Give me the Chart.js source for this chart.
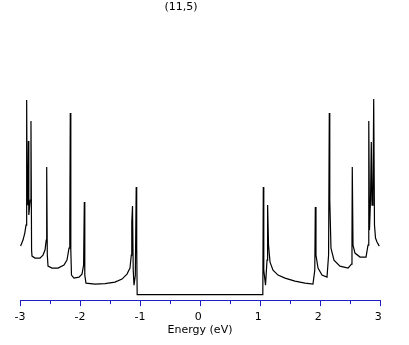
<!DOCTYPE html>
<html>
<head>
<meta charset="utf-8">
<script src="https://cdn.jsdelivr.net/npm/chart.js@4/dist/chart.umd.min.js"></script>
<style>
  html, body { margin: 0; padding: 0; background: #fff; }
  #wrap { width: 409px; height: 345px; }
</style>
</head>
<body>
<div id="wrap"><canvas id="dosChart" width="409" height="345"></canvas></div>
<script>
const chartTitle = "(11,5)";
const axisLabel = "Energy (eV)";
const tickValues = [-3, -2, -1, 0, 1, 2, 3];

// density of states (arbitrary units)
const energy = [
  -2.99, -2.95, -2.92, -2.90, -2.889, -2.88, -2.867, -2.86, -2.853, -2.83,
  -2.817, -2.807, -2.80, -2.75, -2.667, -2.617, -2.583, -2.563, -2.555, -2.545,
  -2.533, -2.467, -2.367, -2.267, -2.217, -2.183, -2.17, -2.162, -2.153, -2.142,
  -2.10, -2.017, -1.967, -1.94, -1.928, -1.92, -1.90, -1.75, -1.583, -1.417,
  -1.30, -1.217, -1.167, -1.145, -1.137, -1.125, -1.113, -1.10, -1.078, -1.063,
  -1.055, -1.047, 0, 1.047,
  1.055, 1.063, 1.092, 1.117, 1.127, 1.142, 1.167, 1.217, 1.30, 1.417,
  1.583, 1.75, 1.883, 1.913, 1.922, 1.933, 1.967, 2.033, 2.117, 2.143,
  2.155, 2.163, 2.183, 2.233, 2.333, 2.467, 2.525, 2.533, 2.538, 2.55,
  2.583, 2.667, 2.767, 2.80, 2.813, 2.825, 2.842, 2.855, 2.867, 2.883,
  2.895, 2.908, 2.925, 2.95, 2.988
];
const dos = [
  4.85, 5.45, 6.15, 6.95, 19.45, 9.45, 8.95, 15.35, 7.95, 9.45,
  17.35, 4.45, 3.85, 3.65, 3.65, 3.95, 4.45, 5.45, 12.75, 3.95,
  2.85, 2.65, 2.65, 2.95, 3.45, 4.65, 6.95, 18.15, 4.45, 1.95,
  1.65, 1.75, 2.05, 2.95, 9.25, 1.95, 1.15, 1.05, 1.1, 1.25,
  1.55, 2.05, 2.65, 3.95, 7.25, 8.85, 2.45, 0.95, 1.95, 10.75,
  4.95, 0, 0, 0,
  10.75, 2.45, 0.95, 3.45, 8.95, 4.95, 3.25, 2.45, 1.95, 1.65,
  1.35, 1.15, 1.05, 2.45, 8.75, 3.95, 2.65, 1.95, 1.75, 3.95,
  18.15, 9.45, 4.65, 3.45, 2.85, 2.65, 3.05, 5.45, 12.75, 4.95,
  4.15, 3.75, 3.75, 4.95, 17.35, 6.45, 9.45, 15.25, 8.95, 9.95,
  19.55, 6.95, 5.65, 5.25, 4.85
];

const axisBlue = "#1c1cc8";
const font = { family: "'DejaVu Sans', sans-serif", size: 11 };

// title sits left of centre in the original, so draw it by hand
const titlePlugin = {
  id: "plainTitle",
  afterDraw(chart) {
    const ctx = chart.ctx;
    ctx.save();
    ctx.font = "11px 'DejaVu Sans', sans-serif";
    ctx.fillStyle = "#000";
    ctx.textAlign = "center";
    ctx.textBaseline = "middle";
    ctx.fillText(chartTitle, 181, 7);
    ctx.restore();
  },
};

// half-unit ticks are shorter than the labelled ones
const minorTicks = {
  id: "minorTicks",
  afterDraw(chart) {
    const x = chart.scales.x;
    const ctx = chart.ctx;
    const y0 = chart.chartArea.bottom;
    ctx.save();
    ctx.strokeStyle = axisBlue;
    ctx.lineWidth = 1;
    ctx.beginPath();
    for (let v = -2.5; v < 3; v += 1) {
      const px = Math.round(x.getPixelForValue(v)) + 0.5;
      ctx.moveTo(px, y0);
      ctx.lineTo(px, y0 + 4);
    }
    ctx.stroke();
    ctx.restore();
  },
};

new Chart("dosChart", {
  type: "line",
  data: {
    datasets: [
      {
        data: energy.map((e, i) => ({ x: e, y: dos[i] })),
        borderColor: "#000",
        borderWidth: 1.2,
        pointRadius: 0,
        tension: 0,
        fill: false,
      },
    ],
  },
  options: {
    responsive: false,
    animation: false,
    layout: { padding: { left: 20, right: 29, top: 20, bottom: 8 } },
    plugins: {
      legend: { display: false },
      tooltip: { enabled: false },
      title: { display: false },
    },
    scales: {
      x: {
        type: "linear",
        min: -3,
        max: 3,
        afterBuildTicks: (scale) => {
          scale.ticks = tickValues.map((v) => ({ value: v }));
        },
        ticks: {
          color: "#000",
          font: font,
          padding: 4,
          maxRotation: 0,
          autoSkip: false,
          // positive numbers sit just left of their tick in the original
          callback: (v) => (v >= 0 ? v + " " : String(v)),
        },
        grid: {
          drawOnChartArea: false,
          drawTicks: true,
          tickLength: 6,
          tickColor: axisBlue,
        },
        border: { color: axisBlue, width: 1 },
        title: {
          display: true,
          text: axisLabel,
          color: "#000",
          font: font,
          padding: { top: -3.5, bottom: 0 },
        },
      },
      y: {
        display: false,
        min: -0.55,
        max: 27.45,
      },
    },
  },
  plugins: [titlePlugin, minorTicks],
});
</script>
</body>
</html>
